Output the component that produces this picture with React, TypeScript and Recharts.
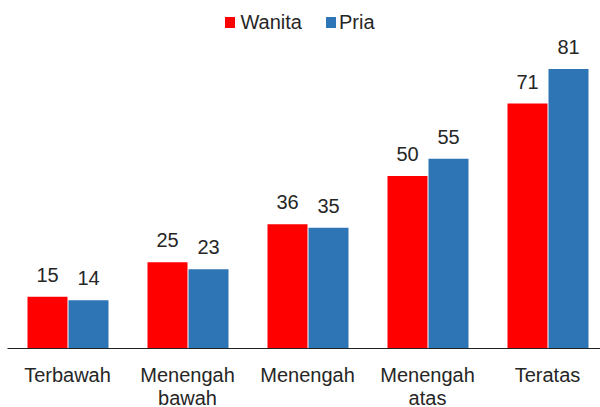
import React from "react";
import { BarChart, Bar, XAxis, YAxis, Legend, LabelList } from "recharts";

const categories = ["Terbawah", "Menengah bawah", "Menengah", "Menengah atas", "Teratas"];
const wanita = [15, 25, 36, 50, 71];
const pria = [14, 23, 35, 55, 81];
const seriesNames = ["Wanita", "Pria"];
const colors = ["#FF0000", "#2E75B6"];

const data = categories.map((c, i) => ({ name: c, wanita: wanita[i], pria: pria[i] }));

const FONT = "Arial, 'Liberation Sans', sans-serif";
const TEXT = "#262626";

const Tick = (props: any) => {
  const { x, y, payload } = props;
  const words = String(payload.value).split(" ");
  return (
    <text x={x} y={y} textAnchor="middle" fill={TEXT} fontSize={20} fontFamily={FONT}>
      {words.map((w: string, i: number) => (
        <tspan key={i} x={x} dy={i === 0 ? 33 : 23}>
          {w}
        </tspan>
      ))}
    </text>
  );
};

const LegendContent = () => (
  <div
    style={{
      display: "flex",
      justifyContent: "center",
      alignItems: "center",
      fontFamily: FONT,
      fontSize: 20,
      color: TEXT,
      width: 600,
      lineHeight: "24px",
    }}
  >
    {seriesNames.map((n, i) => (
      <div key={n} style={{ display: "flex", alignItems: "center", marginLeft: i === 0 ? 0 : 24 }}>
        <span style={{ display: "inline-block", width: 10, height: 11, background: colors[i], marginRight: i === 0 ? 5 : 3 }} />
        <span>{n}</span>
      </div>
    ))}
  </div>
);

export default function App() {
  return (
    <div style={{ position: "absolute", left: 0, top: 0, width: 600, height: 407, overflow: "hidden", background: "#fff" }}>
      <BarChart
        width={610}
        height={407}
        data={data}
        margin={{ top: 38, right: 2.5, left: 7.5, bottom: 0 }}
        barSize={40}
        barGap={1}
      >
        <XAxis
          dataKey="name"
          height={58.5}
          tickLine={false}
          tickSize={0}
          tickMargin={0}
          axisLine={{ stroke: "#222", strokeWidth: 1.2 }}
          tick={<Tick />}
          interval={0}
        />
        <YAxis hide domain={[0, 90]} />
        <Legend
          verticalAlign="middle"
          align="center"
          content={<LegendContent />}
          wrapperStyle={{ top: 10, left: 0, width: 600 }}
        />
        <Bar dataKey="wanita" name="Wanita" fill={colors[0]} isAnimationActive={false}>
          <LabelList dataKey="wanita" position="top" offset={15} fill={TEXT} fontSize={20} fontFamily={FONT} />
        </Bar>
        <Bar dataKey="pria" name="Pria" fill={colors[1]} isAnimationActive={false}>
          <LabelList dataKey="pria" position="top" offset={15} fill={TEXT} fontSize={20} fontFamily={FONT} />
        </Bar>
      </BarChart>
    </div>
  );
}
